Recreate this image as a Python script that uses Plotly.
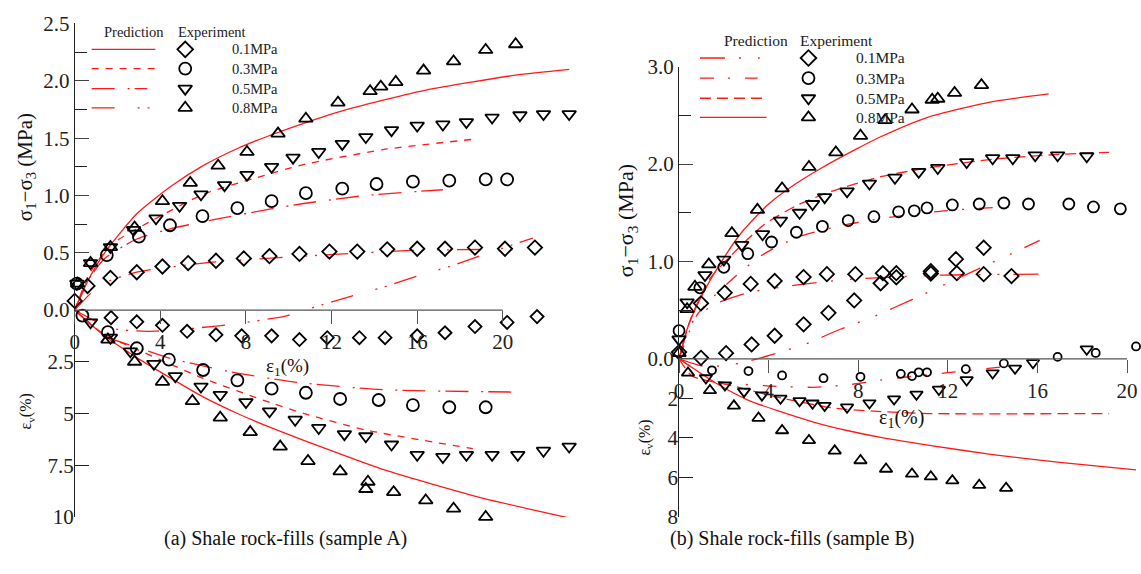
import plotly.graph_objects as go

# ---------------- data: sample A ----------------
# deviatoric stress (MPa) vs axial strain (%)
A_q08_eps = [0.14, 0.74, 1.67, 2.8, 4.1, 5.4, 6.7, 8.05, 9.5, 10.8, 12.3, 13.8, 14.3, 15.0, 16.3, 17.7, 19.2, 20.6]
A_q08 = [0.23, 0.41, 0.55, 0.72, 0.95, 1.11, 1.26, 1.38, 1.54, 1.67, 1.81, 1.91, 1.95, 1.99, 2.09, 2.17, 2.27, 2.32]
A_q05_eps = [0.1, 0.74, 1.67, 2.75, 3.8, 4.9, 5.9, 7.0, 8.05, 9.2, 10.2, 11.4, 12.5, 13.6, 14.8, 16.0, 17.2, 18.3, 19.5, 20.8, 21.9, 23.1]
A_q05 = [0.23, 0.41, 0.55, 0.70, 0.80, 0.91, 1.01, 1.09, 1.18, 1.25, 1.33, 1.38, 1.45, 1.51, 1.57, 1.61, 1.62, 1.64, 1.68, 1.70, 1.71, 1.71]
A_q03_eps = [0.1, 1.5, 3.0, 4.45, 5.97, 7.6, 9.2, 10.8, 12.5, 14.1, 15.8, 17.5, 19.2, 20.2]
A_q03 = [0.23, 0.48, 0.64, 0.74, 0.82, 0.89, 0.95, 1.02, 1.06, 1.10, 1.12, 1.13, 1.14, 1.14]
A_q01_eps = [0.0, 0.6, 1.67, 2.9, 4.1, 5.3, 6.6, 7.9, 9.1, 10.5, 11.9, 13.2, 14.6, 16.0, 17.3, 18.7, 20.1, 21.5]
A_q01 = [0.08, 0.21, 0.28, 0.33, 0.38, 0.41, 0.43, 0.45, 0.47, 0.49, 0.51, 0.51, 0.53, 0.535, 0.535, 0.545, 0.535, 0.545]

# volumetric strain (%) vs axial strain (%), contraction positive
A_ev08_eps = [1.55, 2.8, 4.1, 5.5, 6.8, 8.2, 9.6, 10.9, 12.4, 13.7, 13.6, 14.9, 16.4, 17.7, 19.2, 20.7]
A_ev08 = [1.43, 2.5, 3.47, 4.4, 5.2, 5.9, 6.6, 7.3, 7.8, 8.3, 8.65, 8.8, 9.2, 9.6, 10.0, 10.2]
A_ev05_eps = [0.74, 1.67, 2.6, 3.7, 4.7, 5.9, 6.8, 8.0, 9.1, 10.3, 11.4, 12.6, 13.6, 14.8, 16.0, 17.2, 18.3, 19.5, 20.7, 21.9, 23.1]
A_ev05 = [0.6, 1.34, 2.0, 2.6, 3.2, 3.7, 4.1, 4.45, 4.9, 5.3, 5.7, 6.0, 6.1, 6.5, 7.0, 7.1, 7.0, 7.0, 7.0, 6.8, 6.6]
A_ev03_eps = [0.36, 1.55, 2.9, 4.4, 6.0, 7.6, 9.2, 10.8, 12.4, 14.2, 15.8, 17.5, 19.2]
A_ev03 = [0.27, 1.07, 1.85, 2.4, 2.9, 3.4, 3.8, 4.0, 4.3, 4.35, 4.6, 4.7, 4.7]
A_ev01_eps = [1.7, 2.9, 4.1, 5.25, 6.6, 7.8, 9.2, 10.5, 11.8, 13.3, 14.5, 16.0, 17.3, 18.7, 20.2, 21.6]
A_ev01 = [0.37, 0.57, 0.74, 1.03, 1.2, 1.25, 1.25, 1.43, 1.34, 1.34, 1.34, 1.25, 1.1, 0.8, 0.6, 0.32]

# model predictions, sample A
A_pq08_eps = [0, 0.6, 1.4, 2.9, 4.5, 6.0, 7.6, 9.2, 10.7, 12.9, 16.4, 20.6, 23.1]
A_pq08 = [0, 0.25, 0.50, 0.84, 1.08, 1.26, 1.41, 1.53, 1.63, 1.76, 1.92, 2.05, 2.10]
A_pq05_eps = [0, 0.7, 1.7, 3.7, 6.0, 8.4, 10.7, 14.4, 18.6]
A_pq05 = [0, 0.32, 0.57, 0.79, 1.01, 1.15, 1.27, 1.40, 1.49]
A_pq03_eps = [0, 0.7, 1.4, 2.9, 4.5, 6.8, 9.1, 10.7, 13.6, 17.2]
A_pq03 = [0, 0.28, 0.45, 0.62, 0.71, 0.80, 0.88, 0.93, 1.00, 1.05]
A_pq01_eps = [0, 1.2, 2.9, 6.0, 9.8, 15.7, 20.0]
A_pq01 = [0, 0.22, 0.33, 0.41, 0.46, 0.52, 0.53]
A_pev08_eps = [0, 1.4, 2.9, 4.5, 6.0, 7.6, 9.2, 10.7, 14.4, 19.1, 23.1]
A_pev08 = [0, 1.26, 2.3, 3.3, 4.2, 5.0, 5.7, 6.3, 7.7, 9.1, 10.05]
A_pev05_eps = [0, 1.4, 2.9, 6.0, 9.2, 10.7, 13.6, 18.6]
A_pev05 = [0, 1.2, 1.9, 3.3, 4.5, 5.0, 5.8, 6.7]
A_pev03_eps = [0, 1.4, 2.9, 4.5, 6.0, 7.6, 10.4, 14.4, 20.9]
A_pev03 = [0, 1.25, 1.8, 2.35, 2.7, 3.05, 3.5, 3.85, 3.97]
A_pev01_eps = [0, 1.7, 3.4, 5.4, 7.6, 9.9, 11.2, 12.7, 14.4, 16.1, 17.5, 18.9, 20.6, 21.4]
A_pev01 = [0, 0.88, 1.03, 0.9, 0.66, 0.28, -0.14, -0.6, -1.1, -1.67, -2.1, -2.6, -3.2, -3.47]

# ---------------- data: sample B ----------------
B_q08_eps = [0.0, 0.36, 0.71, 1.33, 2.36, 3.5, 4.6, 5.8, 7.0, 8.1, 9.2, 10.4, 11.3, 11.55, 12.3, 13.5]
B_q08 = [0.06, 0.51, 0.74, 0.97, 1.29, 1.53, 1.75, 1.97, 2.12, 2.29, 2.45, 2.56, 2.66, 2.67, 2.73, 2.81]
B_q05_eps = [0.0, 0.36, 1.16, 2.0, 2.8, 3.73, 4.53, 5.38, 5.96, 6.5, 7.5, 8.5, 9.64, 10.7, 11.55, 12.84, 14.0, 14.9, 15.9, 16.9, 18.2]
B_q05 = [0.2, 0.58, 0.86, 1.02, 1.17, 1.28, 1.42, 1.50, 1.59, 1.66, 1.72, 1.80, 1.86, 1.92, 1.96, 2.02, 2.06, 2.06, 2.09, 2.09, 2.08]
B_q03_eps = [0.0, 0.93, 2.0, 3.07, 4.13, 5.24, 6.4, 7.55, 8.7, 9.8, 10.5, 11.07, 12.2, 13.4, 14.5, 15.6, 17.4, 18.5, 19.7]
B_q03 = [0.29, 0.73, 0.94, 1.08, 1.20, 1.30, 1.36, 1.42, 1.46, 1.51, 1.52, 1.55, 1.58, 1.59, 1.60, 1.59, 1.59, 1.56, 1.54]
B_q01_eps = [0.0, 0.98, 2.04, 3.2, 4.27, 5.56, 6.6, 7.87, 9.1, 9.7, 11.24, 12.4, 13.6, 14.84]
B_q01 = [0.07, 0.57, 0.68, 0.77, 0.80, 0.84, 0.87, 0.87, 0.88, 0.88, 0.90, 0.88, 0.87, 0.85]

B_ev08_eps = [0.4, 1.38, 2.45, 3.55, 4.6, 5.8, 6.95, 8.1, 9.24, 10.4, 11.24, 12.2, 13.4, 14.6]
B_ev08 = [0.71, 1.6, 2.38, 3.0, 3.63, 4.13, 4.66, 5.15, 5.58, 5.83, 5.97, 6.17, 6.4, 6.55]
B_ev05_eps = [1.2, 2.05, 2.9, 3.7, 4.53, 5.38, 5.96, 6.5, 7.5, 8.5, 9.6, 10.6, 11.6, 12.84, 14.0, 15.0, 15.8, 18.2]
B_ev05 = [0.97, 1.33, 1.65, 1.84, 2.0, 2.13, 2.25, 2.37, 2.45, 2.24, 2.04, 1.8, 1.55, 1.07, 0.72, 0.48, 0.2, -0.49]
B_ev03_eps = [1.47, 3.1, 4.6, 6.45, 8.1, 9.9, 10.4, 10.7, 11.07, 12.8, 14.5, 16.9, 18.6, 20.4]
B_ev03 = [0.58, 0.62, 0.84, 0.98, 0.91, 0.76, 0.87, 0.68, 0.68, 0.52, 0.23, -0.1, -0.3, -0.63]
B_ev01_eps = [0.98, 2.1, 3.24, 4.27, 5.56, 6.67, 7.82, 9.0, 9.7, 11.24, 12.36, 13.6]
B_ev01 = [-0.05, -0.29, -0.73, -1.17, -1.75, -2.33, -2.96, -3.83, -4.13, -4.32, -5.05, -5.63]

B_pq08_eps = [0, 0.35, 0.93, 1.9, 2.8, 4.0, 5.16, 6.36, 7.8, 9.0, 11.1, 14.0, 16.5]
B_pq08 = [0, 0.30, 0.61, 1.0, 1.3, 1.59, 1.79, 1.96, 2.14, 2.28, 2.48, 2.64, 2.72]
B_pq05_eps = [0, 0.5, 1.33, 2.36, 3.8, 5.3, 6.8, 9.0, 11.1, 14.0, 17.0, 19.2]
B_pq05 = [0, 0.40, 0.81, 1.07, 1.38, 1.58, 1.72, 1.87, 1.96, 2.05, 2.10, 2.12]
B_pq03_eps = [0, 0.8, 2.0, 3.6, 5.3, 7.5, 9.0, 11.4, 13.0, 15.4]
B_pq03 = [0, 0.45, 0.74, 1.05, 1.25, 1.38, 1.44, 1.51, 1.54, 1.57]
B_pq01_eps = [0, 0.5, 1.5, 3.1, 5.3, 7.8, 11.8, 16.1]
B_pq01 = [0, 0.35, 0.55, 0.68, 0.76, 0.82, 0.86, 0.87]
B_pev08_eps = [0, 1.6, 3.1, 4.6, 6.0, 7.5, 9.0, 11.1, 14.0, 17.0, 20.4]
B_pev08 = [0, 1.2, 2.1, 2.7, 3.2, 3.63, 3.98, 4.37, 4.85, 5.25, 5.63]
B_pev05_eps = [0, 0.58, 2.36, 4.6, 6.8, 8.7, 11.1, 19.2]
B_pev05 = [0, 0.87, 1.36, 1.99, 2.48, 2.65, 2.77, 2.77]
B_pev03_eps = [0, 1.6, 3.8, 6.0, 7.5, 9.5, 12.0, 14.5]
B_pev03 = [0, 1.1, 1.36, 1.44, 1.32, 1.0, 0.7, 0.4]
B_pev01_eps = [0, 1.0, 2.0, 3.0, 4.1, 5.6, 7.2, 8.6, 10.4, 12.3, 14.5, 16.1]
B_pev01 = [0, 0.35, 0.35, 0.15, -0.2, -0.73, -1.5, -2.1, -3.0, -4.0, -5.15, -6.0]

pressures = ["0.1MPa", "0.3MPa", "0.5MPa", "0.8MPa"]
x_ticks = [0, 4, 8, 12, 16, 20]

# ---------------- layout geometry (pixels) ----------------
W, H = 1141, 574
FONT = "Liberation Serif"


def fx(px):
    return px / W


def fy(py):
    return 1 - py / H


# panel A: origin at (70, 311); 21.5 px per % strain; 119.6 px per MPa; 21.6 px per % vol.
A = dict(x0=70, xs=21.5, xmax=23.5, top=12, bot=527, zero=311, qs=119.6, vs=21.6)
# panel B: origin at (677, 362)
B = dict(x0=677, xs=22.5, xmax=20.62, top=57, bot=527, zero=362, qs=101.7, vs=20.6)

RED = "#ff1a1a"
SYM = {"0.1MPa": "diamond-open", "0.3MPa": "circle-open",
       "0.5MPa": "triangle-down-open", "0.8MPa": "triangle-up-open"}

fig = go.Figure()


def add_points(x, y, xa, ya, sym, size):
    fig.add_trace(go.Scatter(
        x=x, y=y, xaxis=xa, yaxis=ya, mode="markers", cliponaxis=False,
        marker=dict(symbol=sym, size=size, color="black", line=dict(width=1.8, color="black")),
        showlegend=False, hoverinfo="skip"))


def add_curve(x, y, xa, ya, dash):
    fig.add_trace(go.Scatter(
        x=x, y=y, xaxis=xa, yaxis=ya, mode="lines",
        line=dict(color=RED, width=1.3, dash=dash, shape="spline", smoothing=0.6),
        showlegend=False, hoverinfo="skip"))


# dash patterns
DASH_A = {"0.8": "solid", "0.5": "7px,7px", "0.3": "23px,13px,2px,5px", "0.1": "23px,23px,2px,8px,2px,8px"}
DASH_B = {"0.8": "solid", "0.5": "11px,6px", "0.3": "14px,14px,2px,15px", "0.1": "25px,14px,2px,17px,2px,14px"}

# panel A curves (x / y stress, x / y2 volumetric)
add_curve(A_pq08_eps, A_pq08, "x", "y", DASH_A["0.8"])
add_curve(A_pq05_eps, A_pq05, "x", "y", DASH_A["0.5"])
add_curve(A_pq03_eps, A_pq03, "x", "y", DASH_A["0.3"])
add_curve(A_pq01_eps, A_pq01, "x", "y", DASH_A["0.1"])
add_curve(A_pev08_eps, A_pev08, "x", "y2", DASH_A["0.8"])
add_curve(A_pev05_eps, A_pev05, "x", "y2", DASH_A["0.5"])
add_curve(A_pev03_eps, A_pev03, "x", "y2", DASH_A["0.3"])
add_curve(A_pev01_eps, A_pev01, "x", "y2", DASH_A["0.1"])

add_points(A_q01_eps, A_q01, "x", "y", SYM["0.1MPa"], 11)
add_points(A_q03_eps, A_q03, "x", "y", SYM["0.3MPa"], 12)
add_points(A_q05_eps, A_q05, "x", "y", SYM["0.5MPa"], 12)
add_points(A_q08_eps, A_q08, "x", "y", SYM["0.8MPa"], 12)
add_points(A_ev01_eps, A_ev01, "x", "y2", SYM["0.1MPa"], 10)
add_points(A_ev03_eps, A_ev03, "x", "y2", SYM["0.3MPa"], 12)
add_points(A_ev05_eps, A_ev05, "x", "y2", SYM["0.5MPa"], 12)
add_points(A_ev08_eps, A_ev08, "x", "y2", SYM["0.8MPa"], 12)

# panel B curves (x2 / y3 stress, x2 / y4 volumetric)
add_curve(B_pq08_eps, B_pq08, "x2", "y3", DASH_B["0.8"])
add_curve(B_pq05_eps, B_pq05, "x2", "y3", DASH_B["0.5"])
add_curve(B_pq03_eps, B_pq03, "x2", "y3", DASH_B["0.3"])
add_curve(B_pq01_eps, B_pq01, "x2", "y3", DASH_B["0.1"])
add_curve(B_pev08_eps, B_pev08, "x2", "y4", DASH_B["0.8"])
add_curve(B_pev05_eps, B_pev05, "x2", "y4", DASH_B["0.5"])
add_curve(B_pev03_eps, B_pev03, "x2", "y4", DASH_B["0.3"])
add_curve(B_pev01_eps, B_pev01, "x2", "y4", DASH_B["0.1"])

add_points(B_q01_eps, B_q01, "x2", "y3", SYM["0.1MPa"], 11)
add_points(B_q03_eps, B_q03, "x2", "y3", SYM["0.3MPa"], 11)
add_points(B_q05_eps, B_q05, "x2", "y3", SYM["0.5MPa"], 12)
add_points(B_q08_eps, B_q08, "x2", "y3", SYM["0.8MPa"], 12)
add_points(B_ev01_eps, B_ev01, "x2", "y4", SYM["0.1MPa"], 11)
add_points(B_ev03_eps, B_ev03, "x2", "y4", SYM["0.3MPa"], 8)
add_points(B_ev05_eps, B_ev05, "x2", "y4", SYM["0.5MPa"], 11)
add_points(B_ev08_eps, B_ev08, "x2", "y4", SYM["0.8MPa"], 11)

# ---------------- legends (drawn on a pixel-space overlay axis) ----------------
LEG_A = dict(line_x=(87, 151), mark_x=181, text_x=226, rows=[39, 59, 80, 100], head_y=21,
             head_pred=130, head_exp=208, size=14.5,
             dashes=["solid", "7px,7px", "23px,13px,2px,5px", "23px,23px,2px,8px,2px,8px"],
             ends=[151, 151, 143, 151])
LEG_B = dict(line_x=(698, 765), mark_x=807, text_x=853, rows=[48, 69, 90, 110], head_y=30,
             head_pred=754, head_exp=835, size=15.5,
             dashes=["25px,14px,2px,17px,2px,14px", "14px,14px,2px,15px", "11px,6px", "solid"],
             ends=[758, 756, 762, 765])

shapes = []
annotations = []
for leg in (LEG_A, LEG_B):
    for row, dash, end in zip(leg["rows"], leg["dashes"], leg["ends"]):
        shapes.append(dict(type="line", xref="x3", yref="y5", x0=leg["line_x"][0], x1=end,
                           y0=row, y1=row, line=dict(color=RED, width=1.3, dash=dash)))
    fig.add_trace(go.Scatter(
        x=[leg["mark_x"]] * 4, y=leg["rows"], xaxis="x3", yaxis="y5", mode="markers",
        cliponaxis=False,
        marker=dict(symbol=[SYM[p] for p in pressures], size=12, color="black",
                    line=dict(width=1.8, color="black")),
        showlegend=False, hoverinfo="skip"))
    for row, p in zip(leg["rows"], pressures):
        annotations.append(dict(xref="x3", yref="y5", x=leg["text_x"], y=row, text=p,
                                showarrow=False, xanchor="left", yanchor="middle",
                                font=dict(family=FONT, size=leg["size"], color="#222")))
    annotations.append(dict(xref="x3", yref="y5", x=leg["head_pred"], y=leg["head_y"], text="Prediction",
                            showarrow=False, font=dict(family=FONT, size=leg["size"], color="#222")))
    annotations.append(dict(xref="x3", yref="y5", x=leg["head_exp"], y=leg["head_y"], text="Experiment",
                            showarrow=False, font=dict(family=FONT, size=leg["size"], color="#222")))

# horizontal strain axes, ending at 20 %
shapes.append(dict(type="line", xref="x", yref="y", x0=0, x1=20, y0=0, y1=0,
                   line=dict(color="#555", width=1.3)))
shapes.append(dict(type="line", xref="x2", yref="y3", x0=0, x1=20, y0=0, y1=0,
                   line=dict(color="#555", width=1.3)))


def txt(x, y, s, size, angle=0):
    annotations.append(dict(xref="x3", yref="y5", x=x, y=y, text=s, showarrow=False,
                            textangle=angle, xanchor="center", yanchor="middle",
                            font=dict(family=FONT, size=size, color="#111")))


txt(21, 162, "σ<sub>1</sub>−σ<sub>3</sub> (MPa)", 21, -90)
txt(22, 417, "ε<sub>v</sub>(%)", 16, -90)
txt(284, 370, "ε<sub>1</sub>(%)", 19)
txt(282, 549, "(a) Shale rock-fills (sample A)", 20)
txt(625, 218, "σ<sub>1</sub>−σ<sub>3</sub> (MPa)", 22, -90)
txt(643, 444, "ε<sub>v</sub>(%)", 16, -90)
txt(900, 424, "ε<sub>1</sub>(%)", 20)
txt(790, 549, "(b) Shale rock-fills (sample B)", 20)

tickfont = dict(family=FONT, size=21, color="#222")
EPS = 1e-3


def panel_axes(P, q_ticks, q_text, q_minor, v_ticks, v_text):
    dom_x = [fx(P["x0"]), fx(P["x0"] + P["xmax"] * P["xs"])]
    dom_y = [fy(P["bot"]), fy(P["top"])]
    q_lo = -(P["bot"] - P["zero"]) / P["qs"]
    q_hi = (P["zero"] - P["top"]) / P["qs"] + EPS
    v_lo = (P["bot"] - P["zero"]) / P["vs"] + EPS
    v_hi = -(P["zero"] - P["top"]) / P["vs"]
    xa = dict(domain=dom_x, range=[0, P["xmax"]], anchor="free", position=fy(P["zero"]),
              showline=False, showgrid=False, zeroline=False, ticks="outside", ticklen=13,
              tickwidth=1.2, tickcolor="#555", tickvals=x_ticks, ticktext=[str(t) for t in x_ticks],
              tickfont=tickfont)
    ya = dict(domain=dom_y, range=[q_lo, q_hi], showline=True, linecolor="#222", linewidth=1.2,
              showgrid=False, zeroline=False, ticks="inside", ticklen=14, tickwidth=1.2,
              tickcolor="#444", tickvals=q_ticks, ticktext=q_text, tickfont=tickfont,
              minor=dict(tickvals=q_minor, ticks="inside", ticklen=12, tickwidth=1.2, tickcolor="#222",
                         showgrid=False))
    yb = dict(side="left", range=[v_lo, v_hi], showline=False, showgrid=False, zeroline=False,
              ticks="inside", ticklen=14, tickwidth=1.2, tickcolor="#222",
              tickvals=v_ticks, ticktext=v_text, tickfont=tickfont)
    return xa, ya, yb


xa1, ya1, ya2 = panel_axes(A, [0, 0.5, 1.0, 1.5, 2.0, 2.5], ["0.0", "0.5", "1.0", "1.5", "2.0", "2.5"],
                           [0.25, 0.75, 1.25, 1.75, 2.25],
                           [2.5, 5, 7.5, 10], ["2.5", "5", "7.5", "10"])
xa2, ya3, ya4 = panel_axes(B, [0, 1.0, 2.0, 3.0], ["0.0", "1.0", "2.0", "3.0"], [0.5, 1.5, 2.5],
                           [2, 4, 6, 8], ["2", "4", "6", "8"])
ya1["anchor"] = "x"
ya2.update(anchor="x", overlaying="y")
ya3["anchor"] = "x2"
ya4.update(anchor="x2", overlaying="y3")

fig.update_layout(
    width=W, height=H, margin=dict(l=0, r=0, t=0, b=0),
    paper_bgcolor="white", plot_bgcolor="rgba(0,0,0,0)", showlegend=False,
    xaxis=xa1, yaxis=ya1, yaxis2=ya2,
    xaxis2=xa2, yaxis3=ya3, yaxis4=ya4,
    xaxis3=dict(domain=[0, 1], range=[0, W], visible=False, anchor="y5"),
    yaxis5=dict(domain=[0, 1], range=[H, 0], visible=False, anchor="x3"),
    shapes=shapes, annotations=annotations,
)

fig.write_html("out.html")
